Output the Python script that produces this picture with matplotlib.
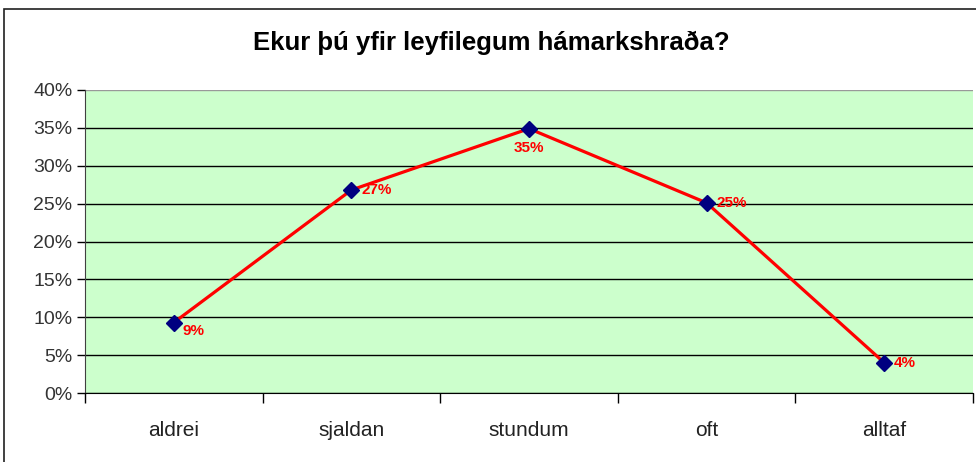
import matplotlib
matplotlib.use("Agg")
import matplotlib.pyplot as plt
from matplotlib.patches import Rectangle
from matplotlib.ticker import PercentFormatter, FixedLocator, NullFormatter

categories = ["aldrei", "sjaldan", "stundum", "oft", "alltaf"]
values = [0.093, 0.268, 0.349, 0.251, 0.040]
labels = ["9%", "27%", "35%", "25%", "4%"]

plt.rcParams["font.family"] = ["Liberation Sans", "DejaVu Sans"]

W, H = 976, 462
fig = plt.figure(figsize=(W / 100, H / 100), dpi=100)

# outer chart border (cut off on the right and bottom like the source)
fig.patches.append(Rectangle((4 / W, -0.1), 1.2, (H - 9) / H + 0.1,
                             transform=fig.transFigure, fill=False,
                             edgecolor="#202020", linewidth=1.2))

ax = fig.add_axes([85 / W, (H - 393) / H, (973 - 85) / W, (393 - 90) / H])
ax.set_facecolor("#CCFFCC")

x = list(range(len(categories)))
ax.plot(x, values, color="red", linewidth=2.3, marker="D", markersize=8,
        markerfacecolor="#000080", markeredgecolor="#000080", zorder=3)

# label offsets in points, per point
offsets = [(6, -6, "left", "center"), (7, 0, "left", "center"),
           (0, -9, "center", "top"), (7, 0, "left", "center"),
           (7, 0, "left", "center")]
for i, (v, lab) in enumerate(zip(values, labels)):
    dx, dy, ha, va = offsets[i]
    ax.annotate(lab, (i, v), xytext=(dx, dy), textcoords="offset points",
                ha=ha, va=va, color="red", fontsize=11, fontweight="bold")

ax.set_xlim(-0.5, len(categories) - 0.5)
ax.set_ylim(0, 0.40)
ax.set_yticks([i * 0.05 for i in range(9)])
ax.yaxis.set_major_formatter(PercentFormatter(1.0, decimals=0))
ax.grid(axis="y", color="black", linewidth=1)
ax.set_axisbelow(True)
ax.get_ygridlines()[-1].set_color("#999999")

ax.set_xticks(x)
ax.set_xticklabels(categories)
ax.xaxis.set_minor_locator(FixedLocator([i - 0.5 for i in range(len(categories) + 1)]))
ax.xaxis.set_minor_formatter(NullFormatter())
ax.tick_params(axis="x", which="major", length=0, pad=20, labelsize=15,
               labelcolor="#222222")
ax.tick_params(axis="x", which="minor", length=7, width=1, direction="out", color="black")
ax.tick_params(axis="y", length=6, width=1, direction="out", labelsize=14,
               labelcolor="#333333", pad=3)

for side in ["top", "right"]:
    ax.spines[side].set_visible(False)
ax.spines["left"].set_color("#404040")
ax.spines["bottom"].set_color("black")

fig.text(491 / W, (H - 43) / H, "Ekur þú yfir leyfilegum hámarkshraða?",
         ha="center", va="center", fontsize=18.5, fontweight="bold")

fig.savefig("out.png", dpi=100)
